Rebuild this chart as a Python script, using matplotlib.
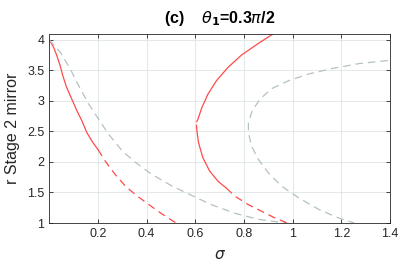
import matplotlib
matplotlib.use('Agg')
import matplotlib.pyplot as plt

plt.rcParams['font.family'] = ['Liberation Sans', 'DejaVu Sans']
plt.rcParams['mathtext.fontset'] = 'dejavusans'

# left red curve: solid part then dashed part
red1_solid_x = [0.0, 0.017, 0.031, 0.045, 0.058, 0.072, 0.093, 0.114, 0.135, 0.155, 0.176, 0.201]
red1_solid_y = [4.0, 3.89, 3.75, 3.58, 3.39, 3.22, 3.03, 2.84, 2.67, 2.48, 2.34, 2.20]
red1_dash_x = [0.201, 0.231, 0.272, 0.314, 0.362, 0.41, 0.459, 0.521]
red1_dash_y = [2.20, 2.01, 1.79, 1.60, 1.44, 1.30, 1.16, 1.0]

# left gray dashed curve
gray1_x = [0.0, 0.045, 0.086, 0.121, 0.162, 0.203, 0.245, 0.30, 0.355, 0.424, 0.507,
           0.586, 0.666, 0.762, 0.859, 0.972]
gray1_y = [4.0, 3.80, 3.53, 3.25, 2.95, 2.70, 2.45, 2.18, 1.99, 1.79, 1.60,
           1.45, 1.30, 1.16, 1.06, 1.0]

# right red curve: upper branch (solid), lower branch solid then dashed
red2_up_x = [0.921, 0.859, 0.79, 0.735, 0.687, 0.652, 0.627, 0.611, 0.606]
red2_up_y = [4.10, 3.94, 3.75, 3.55, 3.33, 3.11, 2.89, 2.70, 2.66]
red2_lo_x = [0.605, 0.607, 0.613, 0.631, 0.659, 0.694, 0.728]
red2_lo_y = [2.60, 2.50, 2.32, 2.07, 1.85, 1.68, 1.57]
red2_dash_x = [0.728, 0.762, 0.818, 0.873, 0.928, 0.978]
red2_dash_y = [1.57, 1.44, 1.30, 1.19, 1.08, 1.0]

# right gray dashed curve
gray2_x = [1.39, 1.273, 1.163, 1.066, 0.983, 0.914, 0.866, 0.834, 0.818, 0.818,
           0.831, 0.859, 0.90, 0.955, 1.025, 1.108, 1.19, 1.253]
gray2_y = [3.66, 3.61, 3.53, 3.44, 3.33, 3.20, 3.03, 2.84, 2.65, 2.48,
           2.26, 2.04, 1.82, 1.60, 1.41, 1.22, 1.08, 1.0]

xticks = [0.2, 0.4, 0.6, 0.8, 1.0, 1.2, 1.4]
xtick_labels = ['0.2', '0.4', '0.6', '0.8', '1', '1.2', '1.4']
yticks = [1, 1.5, 2, 2.5, 3, 3.5, 4]
ytick_labels = ['1', '1.5', '2', '2.5', '3', '3.5', '4']

red = '#ff4a4a'
gray = '#b3c2c0'

fig = plt.figure(figsize=(3.99, 2.69), dpi=100)
ax = fig.add_axes([0.123, 0.171, 0.855, 0.704])

ax.plot(red1_solid_x, red1_solid_y, color=red, lw=0.9)
ax.plot(red1_dash_x, red1_dash_y, color=red, lw=0.9, dashes=(6, 4))
ax.plot(gray1_x, gray1_y, color=gray, lw=0.9, dashes=(6, 4))
ax.plot(red2_up_x, red2_up_y, color=red, lw=0.9)
ax.plot(red2_lo_x, red2_lo_y, color=red, lw=0.9)
ax.plot(red2_dash_x, red2_dash_y, color=red, lw=0.9, dashes=(6, 4))
ax.plot(gray2_x, gray2_y, color=gray, lw=0.9, dashes=(6, 4))

ax.set_xlim(0, 1.4)
ax.set_ylim(1, 4.1)
ax.set_xticks(xticks)
ax.set_xticklabels(xtick_labels)
ax.set_yticks(yticks)
ax.set_yticklabels(ytick_labels)
ax.tick_params(direction='in', top=True, right=True, labelsize=9,
               colors='#262626', length=3, width=0.6)
for s in ax.spines.values():
    s.set_color('#262626')
    s.set_linewidth(0.6)
ax.grid(True, color='#dde5e3', lw=0.6)
ax.set_axisbelow(True)

ax.set_xlabel(r'$\sigma$', fontsize=11, color='#262626', labelpad=6)
ax.set_ylabel('r Stage 2 mirror', fontsize=11.5, color='#262626', labelpad=5)
ax.set_title(r'(c)    $\theta_{\mathbf{1}}$=0.3$\pi$/2', fontsize=11.5, fontweight='bold', pad=8)

fig.savefig('out.png', dpi=100)
